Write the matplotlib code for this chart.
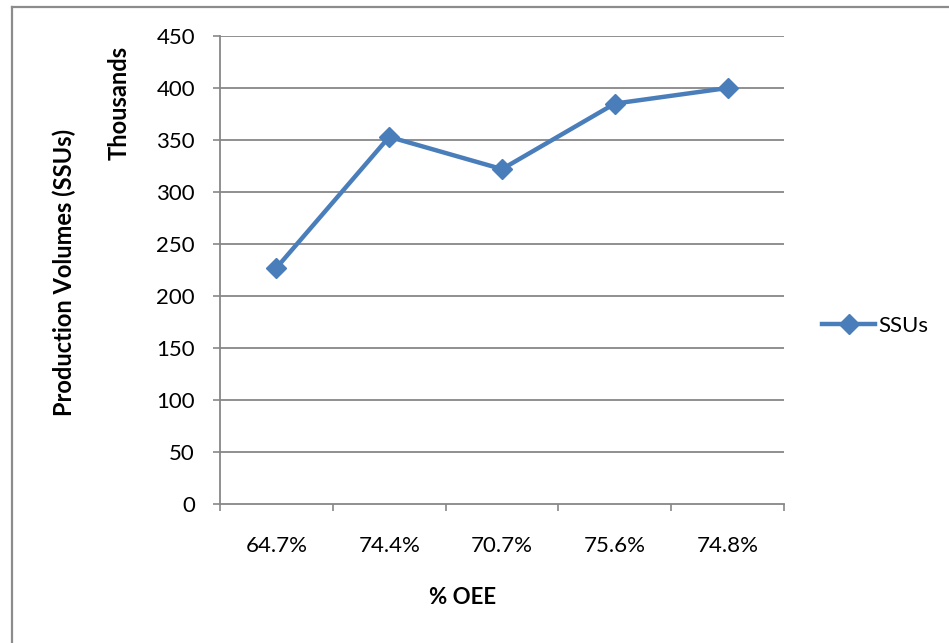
import numpy as np
import matplotlib
matplotlib.use('Agg')
import matplotlib.pyplot as plt
from matplotlib.lines import Line2D

# production volumes (thousands of SSUs) against OEE per period
oee_labels = ['64.7%', '74.4%', '70.7%', '75.6%', '74.8%']
ssus = [227, 353, 322, 385, 400]
yticks = np.arange(0, 451, 50)

blue = '#4A7EBB'
grey = '#878787'

plt.rcParams['font.family'] = ['Lato', 'DejaVu Sans']
fs = 16

W, H = 949, 643
fig = plt.figure(figsize=(W / 100.0, H / 100.0), dpi=100)
ax = fig.add_axes([220.0 / W, 1 - 504.0 / H, 564.0 / W, 468.0 / H])

xpos = np.arange(len(ssus)) + 0.5
ax.plot(xpos, ssus, color=blue, lw=3.2, marker='D', ms=10,
        markerfacecolor=blue, markeredgecolor=blue, solid_joinstyle='miter')

ax.set_xlim(0, len(ssus))
ax.set_ylim(0, 450)
ax.set_yticks(yticks)
ax.set_yticklabels([str(v) for v in yticks], fontsize=fs)

# category ticks sit between the points, labels sit under the points
ax.set_xticks(np.arange(len(ssus) + 1))
ax.set_xticklabels([])
ax.set_xticks(xpos, minor=True)
ax.set_xticklabels(oee_labels, minor=True, fontsize=fs)
ax.tick_params(axis='x', which='major', length=5, width=1.2, color=grey)
ax.tick_params(axis='x', which='minor', length=0, pad=23)
ax.tick_params(axis='y', length=5, width=1.2, color=grey, pad=13)

for v in yticks[1:]:
    ax.axhline(v, color=grey, lw=1.3, zorder=0)

for s in ['top', 'right']:
    ax.spines[s].set_visible(False)
for s in ['left', 'bottom']:
    ax.spines[s].set_color(grey)
    ax.spines[s].set_linewidth(1.3)

fig.text(64.0 / W, 1 - 272.0 / H, 'Production Volumes (SSUs)', rotation=90,
         ha='center', va='center', fontsize=fs + 1, fontweight='bold')
fig.text(119.0 / W, 1 - 103.0 / H, 'Thousands', rotation=90,
         ha='center', va='center', fontsize=fs + 1, fontweight='bold')
fig.text(463.0 / W, 1 - 598.0 / H, '% OEE',
         ha='center', va='center', fontsize=fs, fontweight='bold')

# legend entry on the right
leg = fig.legend(handles=[Line2D([], [], color=blue, lw=3.2, marker='D', ms=10,
                                 markerfacecolor=blue, markeredgecolor=blue)],
                 labels=['SSUs'], loc='center left',
                 bbox_to_anchor=(822.0 / W, 1 - 326.0 / H), frameon=False,
                 fontsize=fs, handlelength=2.4, handletextpad=0.15,
                 borderpad=0, borderaxespad=0)

# chart area border (left and top edges visible)
fig.add_artist(Line2D([11.5 / W, 11.5 / W], [0, 1 - 6.5 / H], color='#8C8C8C',
                      lw=1.6, transform=fig.transFigure))
fig.add_artist(Line2D([11.5 / W, 1], [1 - 6.5 / H, 1 - 6.5 / H], color='#8C8C8C',
                      lw=1.6, transform=fig.transFigure))

fig.savefig('out.png', dpi=100)
